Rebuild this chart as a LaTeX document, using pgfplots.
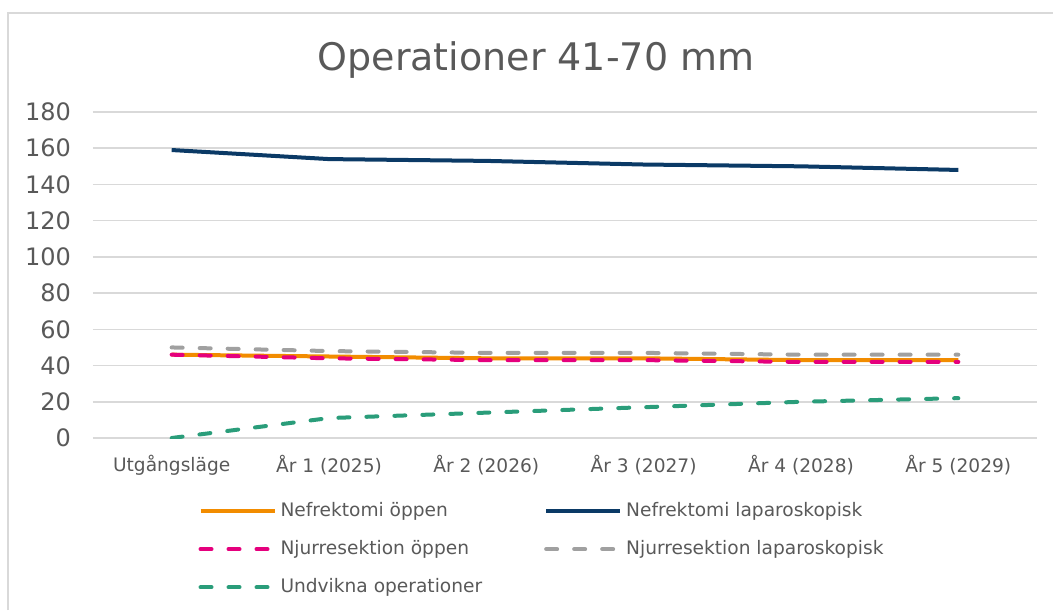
\documentclass[border=0pt]{standalone}
\usepackage{pgfplots}
\pgfplotsset{compat=1.18}
\usepackage{fontspec}
\setmainfont{DejaVu Sans}
\definecolor{cOr}{HTML}{F28C00}
\definecolor{cNavy}{HTML}{0B3A66}
\definecolor{cPink}{HTML}{E5007D}
\definecolor{cGrey}{HTML}{A0A0A0}
\definecolor{cGreen}{HTML}{2A9D7A}
\definecolor{cGrid}{HTML}{D9D9D9}
\definecolor{cText}{HTML}{595959}
\begin{document}
\begin{tikzpicture}
\useasboundingbox (0,0) rectangle (526.5pt,305pt);
\draw[cGrid, line width=0.8pt] (4pt,0) -- (4pt,298.5pt) -- (526.5pt,298.5pt);
\node[text=cText, font=\fontsize{19}{21}\selectfont] at (268pt,275pt) {Operationer 41-70 mm};
\begin{axis}[
  at={(46.5pt,86pt)}, anchor=south west,
  scale only axis, width=472pt, height=163pt,
  xmin=-0.5, xmax=5.5, ymin=0, ymax=180,
  xtick={0,1,2,3,4,5},
  xticklabels={Utgångsläge, År 1 (2025), År 2 (2026), År 3 (2027), År 4 (2028), År 5 (2029)},
  ytick={0,20,...,180},
  /pgf/number format/assume math mode=true,
  axis line style={draw=none},
  tick style={draw=none},
  ymajorgrids, grid style={cGrid, line width=0.8pt},
  yticklabel style={text=cText, font=\fontsize{12}{14}\selectfont, xshift=-7.5pt},
  xticklabel style={text=cText, font=\fontsize{9.3}{11}\selectfont, yshift=-5pt},
  legend columns=2,
  legend cell align=left,
  legend style={draw=none, fill=none, at={(0.105,-0.172)}, anchor=north west,
    font=\fontsize{9.3}{11}\selectfont, text=cText,
    /tikz/every even column/.append style={column sep=29pt},
    row sep=6.5pt},
  legend image code/.code={\draw[#1] (0pt,0pt) -- (37pt,0pt);},
  every axis plot/.append style={line width=2pt},
]
\addplot[cOr] coordinates {(0,46) (1,45) (2,44) (3,44) (4,43) (5,43)};
\addlegendentry{Nefrektomi öppen}
\addplot[cNavy] coordinates {(0,159) (1,154) (2,153) (3,151) (4,150) (5,148)};
\addlegendentry{Nefrektomi laparoskopisk}
\addplot[cPink, line cap=round, dash pattern=on 5.5pt off 8.5pt] coordinates {(0,46) (1,44) (2,43) (3,43) (4,42) (5,42)};
\addlegendentry{Njurresektion öppen}
\addplot[cGrey, line cap=round, dash pattern=on 5.5pt off 8.5pt] coordinates {(0,50) (1,48) (2,47) (3,47) (4,46) (5,46)};
\addlegendentry{Njurresektion laparoskopisk}
\addplot[cGreen, line cap=round, dash pattern=on 5.5pt off 8.5pt] coordinates {(0,0) (1,11) (2,14) (3,17) (4,20) (5,22)};
\addlegendentry{Undvikna operationer}
\end{axis}
\end{tikzpicture}
\end{document}
